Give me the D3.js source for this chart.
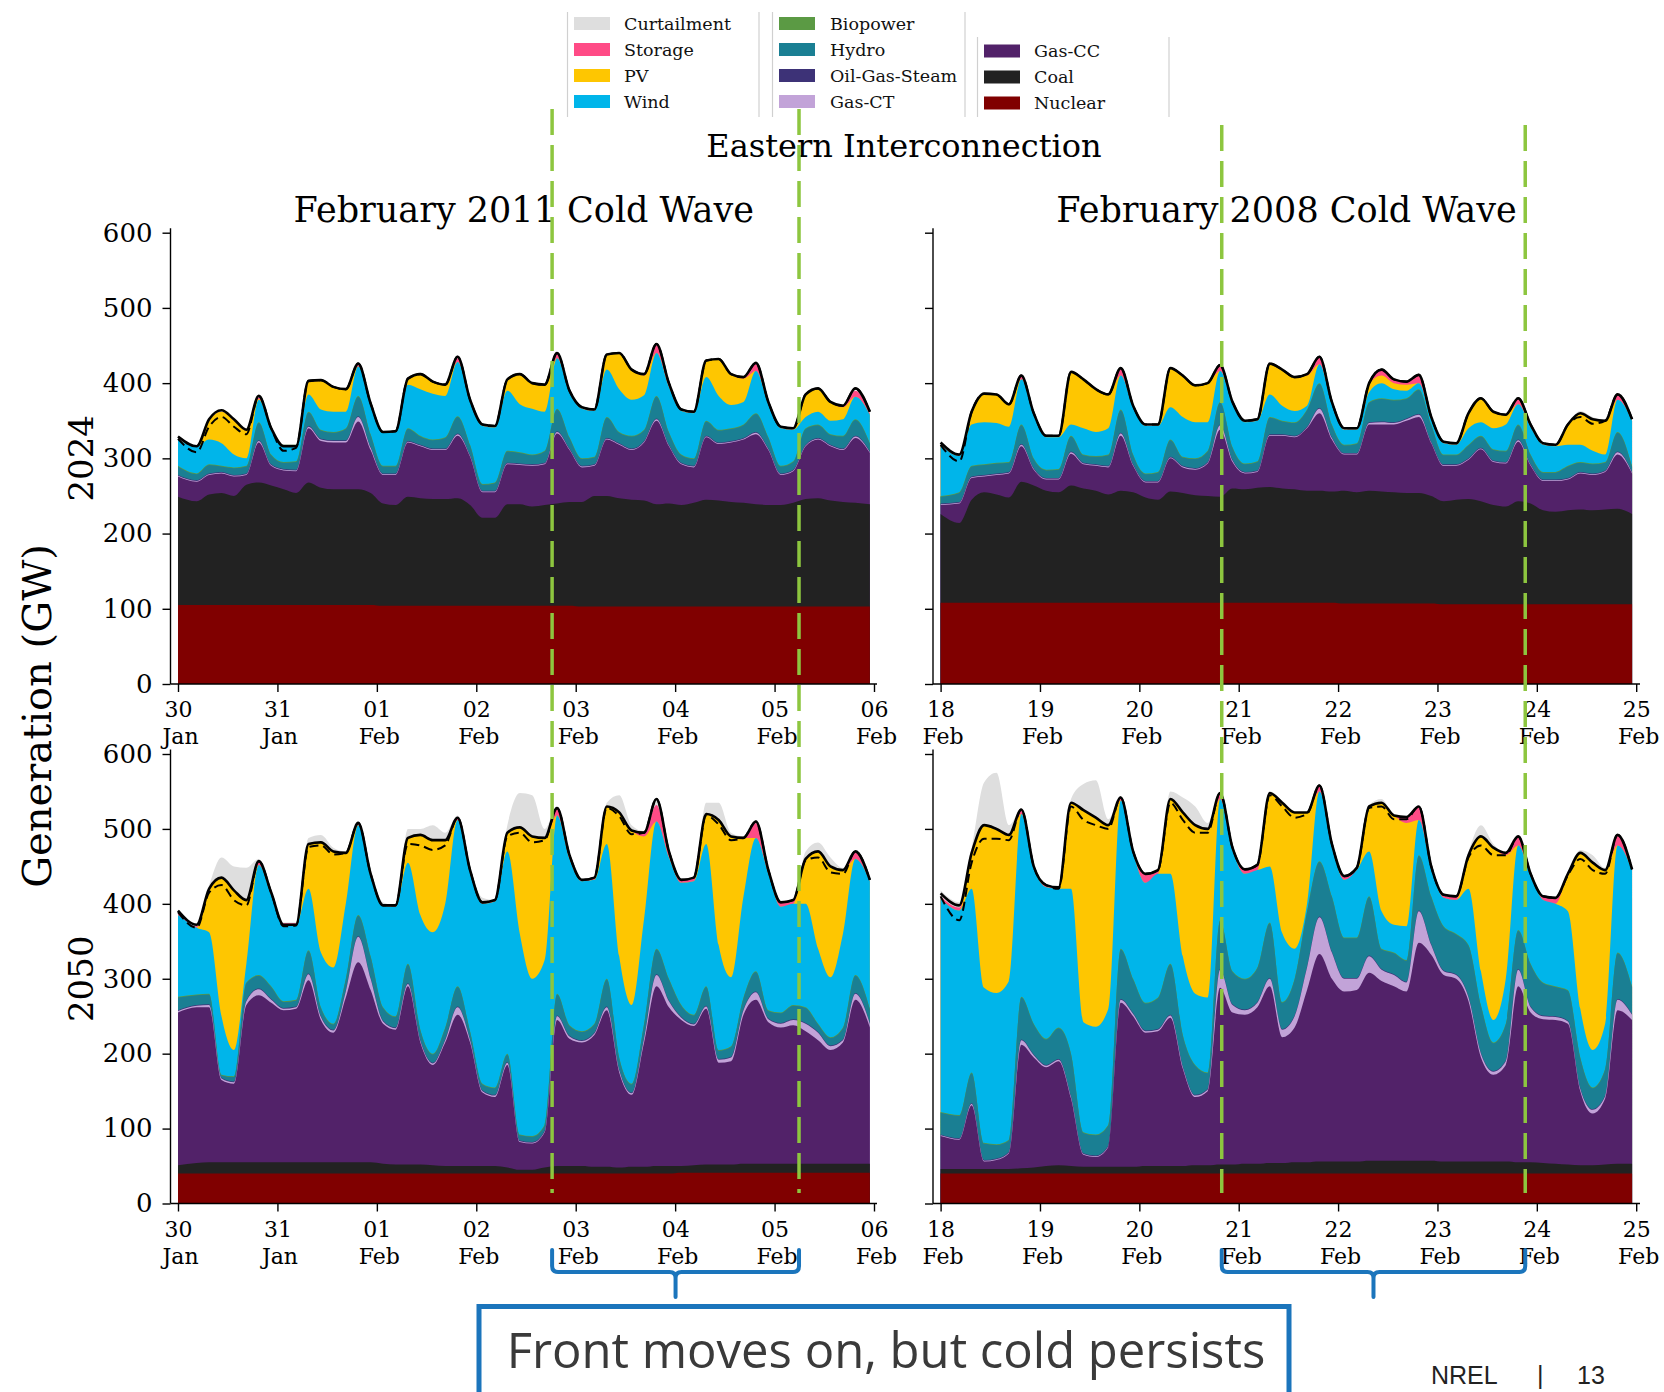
<!DOCTYPE html>
<html><head><meta charset="utf-8">
<script src="https://cdn.jsdelivr.net/npm/d3@7"></script>
<style>
html,body{margin:0;padding:0;background:#fff;}
svg{display:block;}
</style></head>
<body>
<svg id="chart" width="1664" height="1392"></svg>
<script>
// ---------------- data ----------------
const techs = ["Nuclear","Coal","Gas-CC","Gas-CT","Oil-Gas-Steam","Hydro","Biopower","Wind","PV","Storage","Curtailment"];
const techColors = ["#800000","#222222","#522269","#c2a3d8","#3d3277","#1a7f93","#5b9a44","#00b5ea","#fec601","#ff4b86","#dedede"];
const legendCols = [["Curtailment","Storage","PV","Wind"],["Biopower","Hydro","Oil-Gas-Steam","Gas-CT"],["Gas-CC","Coal","Nuclear"]];
const yTicks = [0,100,200,300,400,500,600];
const ticks2011 = ["30\nJan","31\nJan","01\nFeb","02\nFeb","03\nFeb","04\nFeb","05\nFeb","06\nFeb"];
const ticks2008 = ["18\nFeb","19\nFeb","20\nFeb","21\nFeb","22\nFeb","23\nFeb","24\nFeb","25\nFeb"];
const rowLabels = ["2024","2050"];
const colTitles = ["February 2011 Cold Wave","February 2008 Cold Wave"];
const frontHours2011 = [90.3, 149.9];
const frontHours2008 = [67.9, 141.2];
// sample times, hours after the first midnight of each week
const hours = d3.range(56).map(i => i === 0 ? 0 : (i === 55 ? 167 : 3 * i + 1.5));

// tiny, not visible layers (GW)
const oilGasSteam = [1,1,1,1,1,1,1,1, 1,1,1,1,1,1,1,1, 1,1,1,1,1,1,1,1, 1,1,1,1,1,1,1,1, 1,1,1,1,1,1,1,1, 1,1,1,1,1,1,1,1, 1,1,1,1,1,1,1,1];
const biopower    = [1,1,1,1,1,1,1,1, 1,1,1,1,1,1,1,1, 1,1,1,1,1,1,1,1, 1,1,1,1,1,1,1,1, 1,1,1,1,1,1,1,1, 1,1,1,1,1,1,1,1, 1,1,1,1,1,1,1,1];

// ---- 2024, February 2011 cold wave (GW) ----
const a_nuclear = [105,105,105,105,105,105,105,105, 105,105,105,105,105,105,105,105, 104,104,104,104,104,104,104,104, 104,104,104,104,104,104,104,104, 103,103,103,103,103,103,103,103, 103,103,103,103,103,103,103,103, 103,103,103,103,103,103,103,103];
const a_coal = [144,138,147,149,145,160,163,159, 154,149,163,156,154,154,154,149, 136,134,145,143,142,142,143,134, 117,117,135,135,132,134,136,138, 139,147,147,144,142,141,136,137, 135,138,142,141,139,138,136,135, 135,138,143,144,141,139,138,136];
const a_gasCC = [27,26,26,26,26,13,53,26, 25,29,72,62,62,62,90,57, 38,40,72,69,65,65,83,64, 34,34,53,52,54,54,93,69, 46,40,75,71,66,77,111,76, 54,47,83,75,79,84,93,73, 40,42,70,78,72,69,86,68];
const a_gasCT = [1,1,1,1,1,1,2,1, 1,1,2,2,2,2,6,3, 1,1,1,1,1,1,2,1, 1,1,1,1,1,1,2,1, 1,1,1,1,1,1,2,1, 1,1,1,1,1,1,2,1, 1,1,1,1,1,1,2,1];
const a_hydro = [11,8,11,7,9,9,23,12, 8,10,18,11,10,15,26,16, 9,9,16,11,11,14,22,13, 8,10,15,14,12,15,29,14, 9,9,27,14,16,14,29,16, 10,9,19,16,16,17,24,14, 9,10,21,17,13,16,21,10];
const a_wind = [35,36,33,30,17,10,30,33, 23,22,23,27,27,22,39,40, 44,45,58,62,61,55,72,58, 77,73,80,64,61,52,67,60, 66,61,63,57,48,46,57,60, 58,60,58,45,31,30,56,44, 50,42,15,17,18,22,30,38];
const a_pv = [0,0,25,42,45,37,1,0, 0,0,17,38,33,30,0,0, 0,0,8,20,16,15,0,0, 0,0,15,40,34,36,0,0, 0,0,20,48,40,26,0,0, 0,0,22,49,41,31,0,0, 0,0,30,31,25,16,0,0];
const a_storage = [0,0,0,0,0,0,2,0, 0,0,0,0,0,0,4,0, 0,0,0,0,0,0,5,1, 0,0,0,0,0,0,6,1, 0,0,0,0,0,2,11,3, 0,0,0,0,0,2,10,2, 0,0,0,0,0,1,8,2];
const a_curtailment = [2,1,0,0,0,0,0,0, 0,0,3,2,0,0,0,0, 0,0,0,2,1,0,0,0, 0,0,0,0,0,0,0,0, 0,0,0,0,0,0,0,0, 0,0,0,0,0,0,0,0, 0,0,0,0,0,0,0,0];
const a_load = [329,316,352,364,352,338,383,340, 316,316,403,404,395,392,426,373, 335,336,406,412,402,398,435,378, 345,343,405,412,400,398,440,390, 368,365,438,440,418,412,452,400, 365,362,430,432,412,408,427,375, 342,340,385,393,375,370,393,362];
const a_loadDashed = [326,308,342,355,342,332,383,340, 310,314,403,404,395,392,426,373, 335,336,406,412,402,398,435,378, 345,343,405,412,400,398,440,390, 368,365,438,440,418,412,452,400, 365,362,430,432,412,408,427,375, 342,340,385,393,375,370,393,362];

// ---- 2024, February 2008 cold wave (GW) ----
const b_nuclear = [108,108,108,108,108,108,108,108, 108,108,108,108,108,108,108,108, 108,108,108,108,108,108,108,108, 108,108,108,108,108,108,108,108, 107,107,107,107,107,107,107,107, 106,106,106,106,106,106,106,106, 106,106,106,106,106,106,106,106];
const b_coal = [118,106,137,147,144,140,161,156, 149,147,156,152,149,144,149,147, 140,137,148,146,143,142,141,152, 151,153,154,152,151,149,149,148, 150,148,150,149,148,147,147,143, 137,139,140,137,132,130,137,134, 125,123,125,126,125,126,127,120];
const b_gasCC = [12,26,29,21,26,32,47,21, 15,17,42,32,33,36,73,35, 20,23,44,34,34,43,89,35, 21,21,68,70,69,83,103,69, 48,50,88,89,90,96,101,70, 47,45,52,69,57,57,79,50, 39,41,41,48,47,50,72,54];
const b_gasCT = [1,1,1,1,1,1,2,1, 1,1,2,1,1,1,3,1, 1,1,1,1,1,1,6,2, 1,1,1,1,1,1,6,2, 1,1,2,3,2,2,3,1, 1,1,1,1,1,1,2,1, 1,1,1,1,1,1,3,1];
const b_hydro = [9,12,13,13,13,12,25,12, 10,11,20,10,10,14,30,12, 9,11,22,11,12,14,29,16, 10,11,22,17,17,22,32,16, 10,12,26,30,29,26,32,22, 12,12,17,15,14,14,19,12, 9,9,15,12,12,10,25,7];
const b_wind = [68,48,55,56,53,47,60,58, 43,42,15,35,32,35,45,63, 63,61,43,53,48,38,41,58, 55,54,30,20,15,5,25,27, 20,18,13,20,14,10,8,7, 15,13,22,18,28,35,27,37, 36,34,28,23,17,10,43,60];
const b_pv = [0,0,15,38,38,30,0,0, 0,0,70,65,57,45,0,0, 0,0,52,55,49,52,0,0, 0,0,41,48,45,40,0,0, 0,0,10,10,8,8,0,0, 0,0,20,32,22,13,0,0, 0,0,27,42,42,45,0,0];
const b_storage = [0,0,0,0,0,0,5,0, 0,0,0,0,0,0,10,0, 0,0,0,0,0,0,8,0, 0,0,0,0,0,2,10,0, 0,0,2,8,5,4,11,0, 0,0,0,0,0,0,8,0, 0,0,0,0,0,0,7,0];
const b_curtailment = [2,0,0,0,0,0,0,0, 0,0,0,0,0,0,0,0, 0,0,0,0,0,0,0,0, 0,0,0,0,0,0,0,0, 0,0,0,0,0,0,0,0, 0,0,0,0,0,0,0,0, 0,0,0,3,3,0,0,0];
const b_load = [321,305,362,386,385,372,410,360, 330,330,415,405,392,385,420,370, 345,345,420,410,397,400,424,375, 350,352,426,418,408,412,435,375, 340,340,400,418,405,402,411,355, 322,320,360,380,362,358,380,345, 320,318,345,360,352,350,385,352];
const b_loadDashed = [318,296,362,386,385,372,410,360, 330,330,415,405,392,385,420,370, 345,345,420,410,397,400,424,375, 350,352,426,418,408,412,435,375, 340,340,400,418,405,402,411,355, 322,320,360,380,362,358,380,345, 320,318,345,355,346,350,385,352];

// ---- 2050, February 2011 cold wave (GW) ----
const c_nuclear = [40,40,40,40,40,40,40,40, 40,40,40,40,40,40,40,40, 40,40,40,40,40,40,40,40, 40,40,40,40,40,40,40,40, 40,40,40,40,40,40,40,40, 41,41,41,41,41,41,41,41, 41,41,41,41,41,41,41,41];
const c_coal = [11,14,15,15,15,15,15,15, 15,15,15,15,15,15,15,15, 13,12,12,12,11,10,10,10, 10,10,8,5,5,8,10,10, 10,9,9,8,9,9,10,10, 9,10,11,11,11,12,12,12, 12,12,12,12,12,12,12,12];
const c_gasCC = [204,208,207,110,105,210,223,213, 203,205,243,190,173,220,267,230, 187,180,238,163,134,165,202,165, 98,92,137,37,35,47,195,170, 165,176,209,127,96,166,240,212, 195,186,208,136,138,199,219,189, 182,185,177,165,152,162,219,182];
const c_gasCT = [2,2,3,2,2,5,8,4, 2,2,8,4,3,8,34,15, 3,2,3,2,2,3,10,3, 2,2,3,1,1,1,5,3, 2,2,4,3,2,5,15,8, 3,2,3,4,5,6,10,4, 5,7,10,10,5,3,8,5];
const c_hydro = [17,13,13,3,6,23,17,16, 8,8,30,11,7,15,27,28, 17,14,25,13,11,15,26,10, 8,9,10,7,7,7,28,13, 11,11,36,15,11,18,33,28, 15,11,25,11,13,15,26,10, 13,18,20,10,10,15,23,18];
const c_wind = [109,89,82,78,35,25,147,122, 102,100,82,73,75,100,120,110, 135,146,135,153,162,165,222,213, 240,248,270,268,210,220,238,222, 200,192,180,135,105,140,170,162, 163,178,190,140,92,135,178,182, 141,135,138,100,80,125,155,170];
const c_pv = [0,0,58,185,213,85,0,0, 0,0,60,147,155,68,0,0, 0,0,33,107,123,85,0,0, 0,0,25,142,190,163,0,0, 0,0,50,192,233,110,0,0, 0,0,40,167,188,78,0,0, 0,0,60,130,148,85,0,0];
const c_storage = [4,2,0,0,0,0,5,3, 2,2,0,0,0,0,3,0, 1,2,0,0,0,0,3,2, 2,2,0,0,0,0,10,5, 2,3,0,0,0,5,22,8, 4,5,0,0,0,0,20,5, 6,5,0,0,0,0,10,2];
const c_curtailment = [2,2,5,27,32,43,3,0, 1,1,8,10,5,2,2,0, 4,0,12,8,20,10,3,3, 6,0,10,46,55,12,2,0, 0,0,5,23,7,2,6,0, 0,0,15,23,5,2,3,0, 0,0,10,12,12,3,2,0];
const c_load = [391,372,420,435,418,405,457,415, 372,372,480,482,470,468,508,440, 398,398,488,492,485,485,515,445, 402,405,495,502,490,488,528,465, 432,435,530,522,498,495,540,470, 432,435,520,512,490,488,510,445, 402,405,460,470,450,445,470,432];
const c_loadDashed = [389,368,415,425,405,398,457,415, 370,371,476,478,466,468,508,440, 398,398,480,478,472,478,515,445, 402,405,490,495,482,485,528,465, 432,435,528,517,493,495,540,470, 432,435,518,506,485,488,510,445, 402,405,458,462,442,440,470,432];

// ---- 2050, February 2008 cold wave (GW) ----
const d_nuclear = [40,40,40,40,40,40,40,40, 40,40,40,40,40,40,40,40, 40,40,40,40,40,40,40,40, 40,40,40,40,40,40,40,40, 40,40,40,40,40,40,40,40, 40,40,40,40,40,40,40,40, 40,40,40,40,40,40,40,40];
const d_coal = [6,6,6,6,6,6,7,8, 10,11,10,9,9,9,9,9, 10,10,10,10,11,11,12,12, 13,13,14,14,15,15,16,16, 16,16,17,17,17,17,17,17, 16,16,16,16,16,16,15,15, 14,13,12,11,11,12,13,13];
const d_gasCC = [44,39,85,10,12,21,165,147, 132,139,90,16,13,26,219,201, 178,180,198,130,91,99,236,203, 199,209,236,168,180,230,277,244, 227,229,251,240,233,226,291,275, 249,244,214,139,116,129,235,200, 192,192,188,99,69,88,205,192];
const d_gasCT = [1,1,2,1,1,1,6,3, 2,2,2,1,1,1,4,3, 2,2,3,2,2,2,24,10, 6,6,10,10,15,30,49,35, 17,15,22,15,15,12,42,13, 5,5,5,5,4,5,22,7, 4,4,3,3,5,3,14,7];
const d_hydro = [29,30,40,22,18,15,56,40, 34,41,56,27,27,27,66,45, 36,41,67,41,39,21,64,43, 40,45,73,35,48,73,73,73, 53,53,78,26,28,28,73,63, 58,53,68,63,37,48,51,56, 43,39,40,40,28,35,61,36];
const d_wind = [285,273,245,207,202,212,244,208, 202,185,220,147,144,155,198,168, 160,165,120,105,95,100,162,162, 140,130,75,92,40,10,93,68, 77,90,60,50,37,45,47,38, 38,45,75,45,30,60,113,118, 110,110,105,65,50,60,143,155];
const d_pv = [0,0,48,217,219,195,0,0, 0,0,115,283,279,245,0,0, 0,0,100,192,225,225,0,0, 0,0,98,174,182,122,0,0, 0,0,60,145,146,138,0,0, 0,0,45,180,230,165,0,0, 0,0,50,208,250,205,0,0];
const d_storage = [3,4,0,0,0,0,6,2, 3,2,0,0,0,0,4,2, 12,5,0,0,0,0,8,3, 6,7,0,0,0,0,8,2, 5,3,0,0,0,8,18,2, 4,5,0,0,0,3,12,2, 5,8,0,0,0,0,14,1];
const d_curtailment = [8,7,7,57,75,13,0,0, 0,0,5,35,50,8,0,0, 0,0,10,20,25,8,0,0, 0,0,2,3,0,0,0,0, 0,0,2,5,0,0,0,0, 0,0,5,15,5,0,0,0, 0,0,2,4,10,3,0,0];
const d_load = [414,398,468,505,500,492,526,450, 425,422,535,525,515,505,542,470, 440,445,540,522,505,500,548,475, 446,452,548,535,522,522,558,480, 437,448,530,535,518,516,530,450, 412,410,465,490,475,468,490,440, 410,408,440,468,455,445,492,446];
const d_loadDashed = [410,378,455,487,487,485,526,450, 425,420,530,512,505,500,542,470, 440,445,535,512,495,495,548,475, 446,452,545,530,515,520,558,480, 437,448,528,530,513,513,530,450, 412,410,462,478,465,465,490,440, 410,408,438,460,445,440,492,446];

// ---------------- layout ----------------
const svg = d3.select("#chart");
const SERIF = "DejaVu Serif";
const cols = [
  {spine: 170.5, t0: 178, t7: 874, end: 877, labels: ticks2011, fronts: frontHours2011, frontTop: 109},
  {spine: 933, t0: 940.6, t7: 1636.2, end: 1640, labels: ticks2008, fronts: frontHours2008, frontTop: 125}
];
const rows = [{y0: 684, y600: 232.7}, {y0: 1203.5, y600: 754}];

const panels = [
  {r:0, c:0, series:[a_nuclear,a_coal,a_gasCC,a_gasCT,oilGasSteam,a_hydro,biopower,a_wind,a_pv,a_storage,a_curtailment], load:a_load, dashed:a_loadDashed},
  {r:0, c:1, series:[b_nuclear,b_coal,b_gasCC,b_gasCT,oilGasSteam,b_hydro,biopower,b_wind,b_pv,b_storage,b_curtailment], load:b_load, dashed:b_loadDashed},
  {r:1, c:0, series:[c_nuclear,c_coal,c_gasCC,c_gasCT,oilGasSteam,c_hydro,biopower,c_wind,c_pv,c_storage,c_curtailment], load:c_load, dashed:c_loadDashed},
  {r:1, c:1, series:[d_nuclear,d_coal,d_gasCC,d_gasCT,oilGasSteam,d_hydro,biopower,d_wind,d_pv,d_storage,d_curtailment], load:d_load, dashed:d_loadDashed}
];

const xScales = cols.map(c => d3.scaleLinear().domain([0, 168]).range([c.t0, c.t7]));
const yScales = rows.map(r => d3.scaleLinear().domain([0, 600]).range([r.y0, r.y600]));

panels.forEach(p => {
  const x = xScales[p.c], y = yScales[p.r], col = cols[p.c], row = rows[p.r];
  const table = hours.map((h, i) => {
    const o = {h};
    techs.forEach((t, k) => { o[t] = p.series[k][i]; });
    return o;
  });
  const stacked = d3.stack().keys(techs)(table);
  const g = svg.append("g");
  // paint from top layer downwards, each from zero to its cumulative top (no seams)
  for (let k = stacked.length - 1; k >= 0; k--) {
    const area = d3.area()
      .x(d => x(d.data.h))
      .y0(y(0))
      .y1(d => y(d[1]))
      .curve(d3.curveMonotoneX);
    g.append("path").attr("d", area(stacked[k])).attr("fill", techColors[k]);
  }
  const line = d3.line().x((d, i) => x(hours[i])).y(d => y(d)).curve(d3.curveMonotoneX);
  g.append("path").attr("d", line(p.dashed)).attr("fill", "none").attr("stroke", "#000")
    .attr("stroke-width", 2).attr("stroke-dasharray", "9,5");
  g.append("path").attr("d", line(p.load)).attr("fill", "none").attr("stroke", "#000")
    .attr("stroke-width", 2.6).attr("stroke-linejoin", "round");

  // y axis
  const ya = svg.append("g").attr("transform", `translate(${col.spine},0)`)
    .call(d3.axisLeft(y).tickValues(yTicks).tickSize(8).tickPadding(10)
      .tickFormat(p.c === 0 ? d3.format("d") : () => ""));
  ya.select(".domain").remove();
  ya.attr("font-family", SERIF).attr("font-size", 26);
  ya.selectAll(".tick line").attr("stroke-width", 1.4);
  ya.selectAll(".tick text").attr("fill", "#000");
  svg.append("line").attr("x1", col.spine).attr("x2", col.spine)
    .attr("y1", row.y0).attr("y2", y(606)).attr("stroke", "#000").attr("stroke-width", 1.4);

  // x axis
  const xa = svg.append("g").attr("transform", `translate(0,${row.y0})`)
    .call(d3.axisBottom(x).tickValues(d3.range(0, 169, 24)).tickSize(8).tickFormat((d, i) => col.labels[i]));
  xa.select(".domain").remove();
  xa.attr("font-family", SERIF).attr("font-size", 22);
  xa.selectAll(".tick line").attr("stroke-width", 1.4);
  xa.selectAll(".tick text").each(function(d, i) {
    const parts = col.labels[i].split("\n");
    const t = d3.select(this).text(null).attr("y", 0).attr("dy", null).attr("fill", "#000");
    t.append("tspan").attr("x", 0).attr("y", 33).text(parts[0]);
    t.append("tspan").attr("x", 2).attr("y", 60).text(parts[1]);
  });
  svg.append("line").attr("x1", col.spine).attr("x2", col.end)
    .attr("y1", row.y0).attr("y2", row.y0).attr("stroke", "#000").attr("stroke-width", 1.4);
});

// titles
svg.append("text").attr("x", 904).attr("y", 157).attr("text-anchor", "middle")
  .attr("font-family", SERIF).attr("font-size", 32).text("Eastern Interconnection");
colTitles.forEach((t, c) => {
  const mid = (cols[c].spine + cols[c].end) / 2;
  svg.append("text").attr("x", mid).attr("y", 222).attr("text-anchor", "middle")
    .attr("font-family", SERIF).attr("font-size", 35).text(t);
});
rowLabels.forEach((t, r) => {
  const mid = (rows[r].y0 + rows[r].y600) / 2;
  svg.append("text").attr("transform", `translate(93,${mid}) rotate(-90)`).attr("text-anchor", "middle")
    .attr("font-family", SERIF).attr("font-size", 34).text(t);
});
svg.append("text").attr("transform", `translate(51,716) rotate(-90)`).attr("text-anchor", "middle")
  .attr("font-family", SERIF).attr("font-size", 40).text("Generation (GW)");

// legend
const legendBoxes = [
  {left: 567.5, right: 759, top: 12, sw: 574, lx: 624, y0: 23.5},
  {left: 772.5, right: 965, top: 12, sw: 779, lx: 830, y0: 23.5},
  {left: 977.5, right: 1169, top: 37, sw: 984, lx: 1034, y0: 51}
];
legendCols.forEach((items, ci) => {
  const b = legendBoxes[ci];
  [b.left, b.right].forEach(xx => svg.append("line").attr("x1", xx).attr("x2", xx)
    .attr("y1", b.top).attr("y2", 117).attr("stroke", "#d0d0d0").attr("stroke-width", 1.2));
  items.forEach((name, j) => {
    const cy = b.y0 + j * 26;
    svg.append("rect").attr("x", b.sw).attr("y", cy - 6.5).attr("width", 36).attr("height", 13)
      .attr("fill", techColors[techs.indexOf(name)]);
    svg.append("text").attr("x", b.lx).attr("y", cy).attr("dy", "0.36em")
      .attr("font-family", SERIF).attr("font-size", 17.5).attr("fill", "#111").text(name);
  });
});

// front markers (green dashed)
cols.forEach((col, c) => {
  col.fronts.forEach(h => {
    const xx = xScales[c](h);
    svg.append("line").attr("x1", xx).attr("x2", xx).attr("y1", col.frontTop).attr("y2", 1193)
      .attr("stroke", "#8dc63f").attr("stroke-width", 3.5).attr("stroke-dasharray", "26,10");
  });
});

// braces
const BLUE = "#1b75bc";
cols.forEach((col, c) => {
  const xa = xScales[c](col.fronts[0]), xb = xScales[c](col.fronts[1]);
  const xm = (xa + xb) / 2, top = 1250, base = 1272, r = 6;
  const dPath = `M${xa},${top} V${base - r} Q${xa},${base} ${xa + r},${base} H${xm - r} Q${xm},${base} ${xm},${base + r} V1297 ` +
    `M${xm},${base + r} Q${xm},${base} ${xm + r},${base} H${xb - r} Q${xb},${base} ${xb},${base - r} V${top}`;
  svg.append("path").attr("d", dPath).attr("fill", "none").attr("stroke", BLUE).attr("stroke-width", 4)
    .attr("stroke-linecap", "round");
});

// call-out box
svg.append("rect").attr("x", 479).attr("y", 1306.5).attr("width", 810).attr("height", 120)
  .attr("fill", "#fff").attr("stroke", BLUE).attr("stroke-width", 5);
svg.append("text").attr("x", 886).attr("y", 1368).attr("text-anchor", "middle")
  .attr("font-family", "Open Sans").attr("font-size", 49).attr("fill", "#3a3a3a")
  .text("Front moves on, but cold persists");

// footer
const foot = svg.append("g").attr("font-family", "Liberation Sans").attr("font-size", 25).attr("fill", "#222");
foot.append("text").attr("x", 1431).attr("y", 1384).text("NREL");
foot.append("text").attr("x", 1537).attr("y", 1384).text("|");
foot.append("text").attr("x", 1577).attr("y", 1384).text("13");
</script>
</body></html>
